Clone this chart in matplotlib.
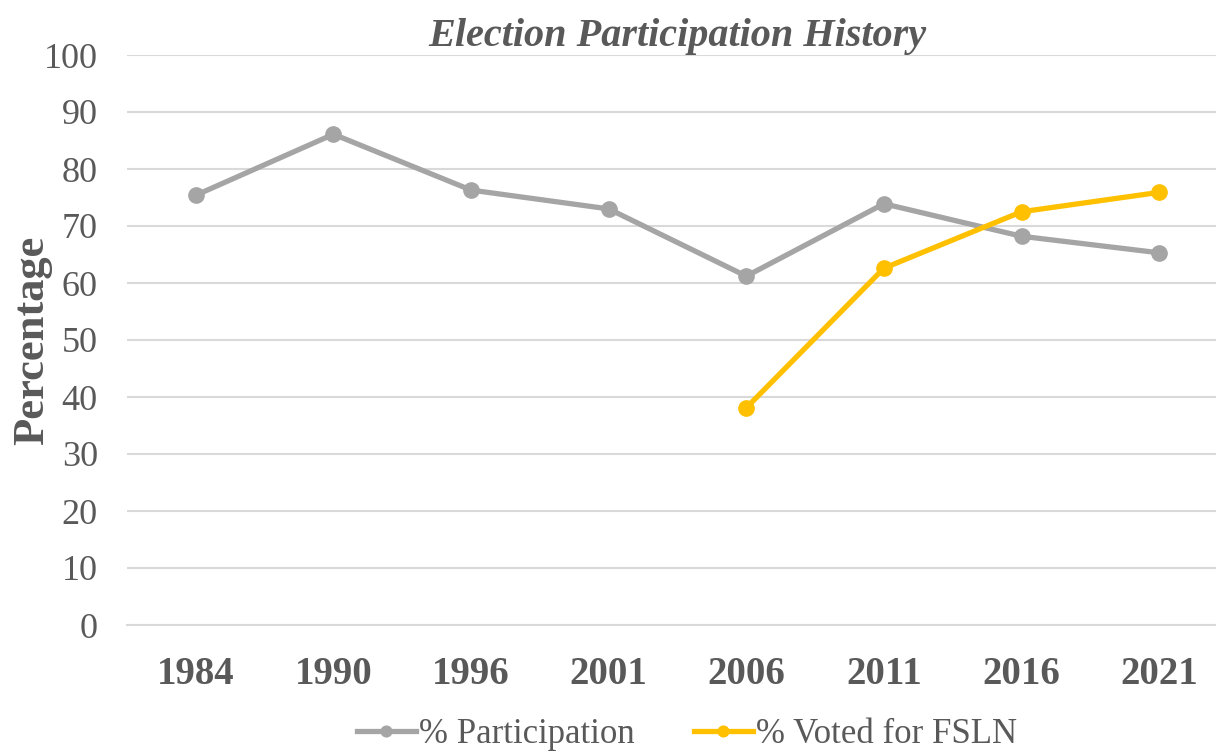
import matplotlib.pyplot as plt

years = ["1984", "1990", "1996", "2001", "2006", "2011", "2016", "2021"]
participation = [75.4, 86.1, 76.3, 73.0, 61.2, 73.9, 68.2, 65.3]
fsln_years = ["2006", "2011", "2016", "2021"]
fsln_vote = [38.1, 62.6, 72.5, 75.9]
y_ticks = [0, 10, 20, 30, 40, 50, 60, 70, 80, 90, 100]

text_color = "#595959"
plt.rcParams["font.family"] = ["Liberation Serif", "DejaVu Serif"]

fig = plt.figure(figsize=(12.16, 7.56), dpi=100)
ax = fig.add_axes([127 / 1216, 131 / 756, 1101 / 1216, 570 / 756])

x_all = list(range(len(years)))
x_fsln = [years.index(y) for y in fsln_years]

ax.plot(x_all, participation, color="#a5a5a5", lw=3.8, marker="o", ms=11,
        label="% Participation", solid_joinstyle="round", zorder=3)
ax.plot(x_fsln, fsln_vote, color="#ffc000", lw=3.8, marker="o", ms=11,
        label="% Voted for FSLN", solid_joinstyle="round", zorder=3)

ax.set_xlim(-0.5, len(years) - 0.5)
ax.set_ylim(0, 100)
ax.set_yticks(y_ticks)
ax.set_xticks(x_all)
ax.set_xticklabels(years, fontsize=28, fontweight="bold", color=text_color)
ax.set_yticklabels([str(v) for v in y_ticks], fontsize=26, color=text_color)
ax.tick_params(length=0)
ax.tick_params(axis="x", pad=22)
ax.tick_params(axis="y", pad=21)
ax.grid(axis="y", color="#d9d9d9", lw=1.5)
ax.set_axisbelow(True)
for s in ["top", "right", "left"]:
    ax.spines[s].set_visible(False)
ax.spines["bottom"].set_color("#d9d9d9")
ax.spines["bottom"].set_linewidth(1.5)

ax.set_ylabel("Percentage", fontsize=32, fontweight="bold", color=text_color)
ax.yaxis.set_label_coords(-0.068, 0.5)
ax.set_title("Election Participation History", fontsize=29, fontweight="bold",
             style="italic", color=text_color, pad=0)

leg = fig.legend(loc="lower center", bbox_to_anchor=(0.565, -0.035), ncol=2,
                 frameon=False, fontsize=25, handlelength=1.7, handletextpad=0.1,
                 columnspacing=1.7, markerscale=0.7)
for t in leg.get_texts():
    t.set_color(text_color)

fig.savefig("out.png", dpi=100)
